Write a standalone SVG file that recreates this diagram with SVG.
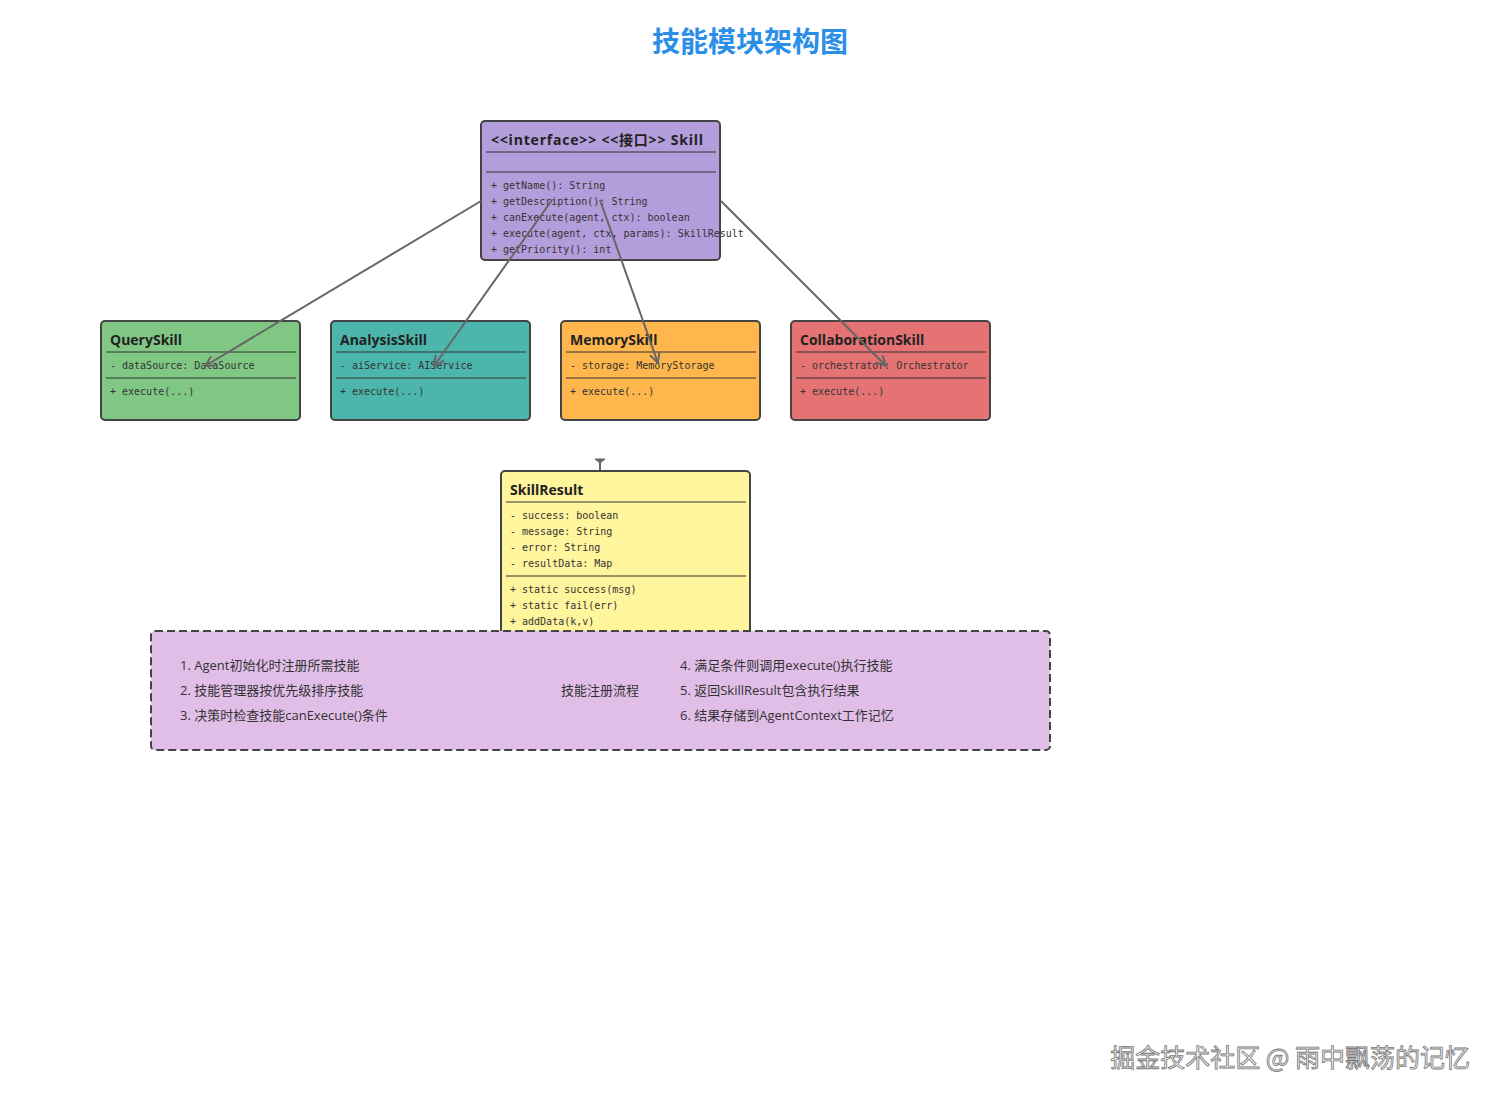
<svg xmlns="http://www.w3.org/2000/svg" width="1500" height="1100" viewBox="0 0 1500 1100">
<defs>
<style>
.box{stroke:#444;stroke-width:2}
.title{font-family:"Open Sans","Noto Sans","Noto Sans CJK SC",sans-serif;font-size:14px;font-weight:bold;fill:#222}
.mono{font-family:"DejaVu Sans Mono","Liberation Mono",monospace;font-size:10px;fill:#333}
.sep{stroke:#333;stroke-width:1}
.conn{stroke:#666;stroke-width:2;fill:none}
.note{font-family:"Open Sans","Noto Sans CJK SC",sans-serif;font-size:13px;fill:#333}
</style>
<marker id="arr" viewBox="0 0 12 12" refX="11" refY="6" markerWidth="12" markerHeight="12" markerUnits="userSpaceOnUse" orient="auto">
<path d="M1,1 L11,6 L1,11" fill="none" stroke="#666" stroke-width="2"/>
</marker>
</defs>
<rect width="1500" height="1100" fill="#fff"/>
<text x="750" y="52" text-anchor="middle" font-family="'Noto Sans CJK SC',sans-serif" font-size="28" font-weight="bold" fill="#2b8fe8">技能模块架构图</text>

<g id="skill">
<rect class="box" x="481" y="121" width="239" height="139" rx="4" fill="#b39ddb"/>
<text class="title" x="491" y="145" letter-spacing="0.8">&lt;&lt;interface&gt;&gt; &lt;&lt;接口&gt;&gt; Skill</text>
<line class="sep" x1="486" y1="152" x2="716" y2="152"/>
<line class="sep" x1="486" y1="172" x2="716" y2="172"/>
<text class="mono" x="491" y="189">+ getName(): String</text>
<text class="mono" x="491" y="205">+ getDescription(): String</text>
<text class="mono" x="491" y="221">+ canExecute(agent, ctx): boolean</text>
<text class="mono" x="491" y="237">+ execute(agent, ctx, params): SkillResult</text>
<text class="mono" x="491" y="253">+ getPriority(): int</text>
</g>

<g id="queryskill">
<rect class="box" x="101" y="321" width="199" height="99" rx="4" fill="#81c784"/>
<text class="title" x="110" y="345">QuerySkill</text>
<line class="sep" x1="106" y1="352" x2="296" y2="352"/>
<text class="mono" x="110" y="369">- dataSource: DataSource</text>
<line class="sep" x1="106" y1="378" x2="296" y2="378"/>
<text class="mono" x="110" y="395">+ execute(...)</text>
</g>

<g id="analysisskill">
<rect class="box" x="331" y="321" width="199" height="99" rx="4" fill="#4db6ac"/>
<text class="title" x="340" y="345">AnalysisSkill</text>
<line class="sep" x1="336" y1="352" x2="526" y2="352"/>
<text class="mono" x="340" y="369">- aiService: AIService</text>
<line class="sep" x1="336" y1="378" x2="526" y2="378"/>
<text class="mono" x="340" y="395">+ execute(...)</text>
</g>

<g id="memoryskill">
<rect class="box" x="561" y="321" width="199" height="99" rx="4" fill="#ffb74d"/>
<text class="title" x="570" y="345">MemorySkill</text>
<line class="sep" x1="566" y1="352" x2="756" y2="352"/>
<text class="mono" x="570" y="369">- storage: MemoryStorage</text>
<line class="sep" x1="566" y1="378" x2="756" y2="378"/>
<text class="mono" x="570" y="395">+ execute(...)</text>
</g>

<g id="collaborationskill">
<rect class="box" x="791" y="321" width="199" height="99" rx="4" fill="#e57373"/>
<text class="title" x="800" y="345">CollaborationSkill</text>
<line class="sep" x1="796" y1="352" x2="986" y2="352"/>
<text class="mono" x="800" y="369">- orchestrator: Orchestrator</text>
<line class="sep" x1="796" y1="378" x2="986" y2="378"/>
<text class="mono" x="800" y="395">+ execute(...)</text>
</g>

<g id="skillresult">
<rect class="box" x="501" y="471" width="249" height="175" rx="4" fill="#fff59d"/>
<text class="title" x="510" y="495">SkillResult</text>
<line class="sep" x1="506" y1="502" x2="746" y2="502"/>
<text class="mono" x="510" y="519">- success: boolean</text>
<text class="mono" x="510" y="535">- message: String</text>
<text class="mono" x="510" y="551">- error: String</text>
<text class="mono" x="510" y="567">- resultData: Map</text>
<line class="sep" x1="506" y1="576" x2="746" y2="576"/>
<text class="mono" x="510" y="593">+ static success(msg)</text>
<text class="mono" x="510" y="609">+ static fail(err)</text>
<text class="mono" x="510" y="625">+ addData(k,v)</text>
</g>

<g id="connectors">
<line class="conn" x1="481" y1="201" x2="205" y2="366" marker-end="url(#arr)"/>
<line class="conn" x1="552" y1="200" x2="434" y2="366" marker-end="url(#arr)"/>
<line class="conn" x1="600" y1="200" x2="658" y2="363" marker-end="url(#arr)"/>
<line class="conn" x1="721" y1="201" x2="886" y2="366" marker-end="url(#arr)"/>
<line x1="600" y1="460" x2="600" y2="470" stroke="#666" stroke-width="2"/>
<path d="M595,459 L605,459 L600,463 Z" fill="#666" stroke="#666" stroke-width="1"/>
</g>

<g id="note">
<rect x="151" y="631" width="899" height="119" rx="4" fill="#e1bee7" stroke="#444" stroke-width="2" stroke-dasharray="8,4"/>
<text class="note" x="180" y="670">1. Agent初始化时注册所需技能</text>
<text class="note" x="180" y="695">2. 技能管理器按优先级排序技能</text>
<text class="note" x="180" y="720">3. 决策时检查技能canExecute()条件</text>
<text class="note" x="600" y="695" text-anchor="middle">技能注册流程</text>
<text class="note" x="680" y="670">4. 满足条件则调用execute()执行技能</text>
<text class="note" x="680" y="695">5. 返回SkillResult包含执行结果</text>
<text class="note" x="680" y="720">6. 结果存储到AgentContext工作记忆</text>
</g>

<text x="1470" y="1067" text-anchor="end" font-family="'Noto Sans CJK SC',sans-serif" font-size="25" fill="#f4f4f4" stroke="#777" stroke-width="0.8">掘金技术社区 @ 雨中飘荡的记忆</text>
</svg>
